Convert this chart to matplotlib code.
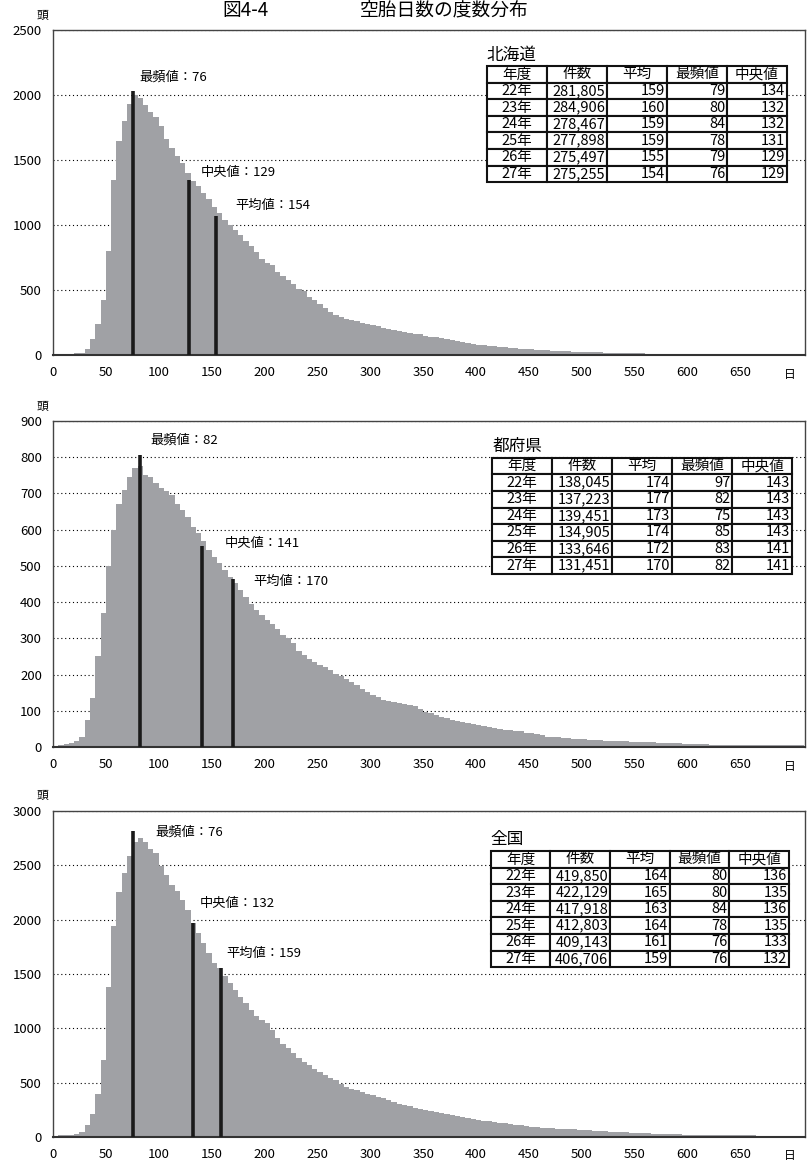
import numpy as np
import matplotlib
matplotlib.use("Agg")
import matplotlib.pyplot as plt

plt.rcParams["font.family"] = ["Noto Sans CJK JP", "DejaVu Sans"]

# ======================
# Data (5-day bins, left edge in days)
# ======================
days = np.arange(0, 710, 5)

hokkaido = [
    3, 5, 8, 10, 15, 18, 50, 120, 240, 420,
    800, 1350, 1650, 1800, 1930, 2000, 1980, 1920, 1870, 1830,
    1760, 1660, 1590, 1530, 1480, 1400, 1340, 1300, 1250, 1200,
    1140, 1090, 1040, 1000, 960, 920, 880, 840, 790, 740,
    710, 690, 640, 610, 580, 550, 510, 490, 450, 420,
    390, 360, 330, 310, 295, 280, 270, 260, 250, 240,
    230, 220, 210, 200, 195, 185, 178, 172, 165, 158,
    150, 142, 135, 128, 120, 113, 105, 98, 90, 82,
    77, 74, 71, 68, 65, 62, 57, 52, 48, 45,
    43, 40, 37, 35, 33, 32, 30, 28, 27, 26,
    25, 23, 21, 20, 18, 17, 16, 15, 14, 13,
    13, 12, 11, 10, 10, 9, 9, 8, 8, 7,
    7, 7, 6, 6, 6, 5, 5, 5, 5, 4,
    4, 4, 4, 3, 3, 3, 3, 3, 2, 2,
    2, 2,
]

tofuken = [
    3, 5, 8, 10, 18, 28, 75, 135, 250, 370,
    500, 600, 670, 710, 745, 770, 775, 750, 745, 728,
    714, 708, 695, 672, 654, 635, 608, 590, 570, 545,
    525, 507, 488, 470, 452, 433, 415, 396, 378, 364,
    350, 340, 327, 310, 300, 288, 265, 253, 244, 235,
    226, 220, 212, 203, 197, 189, 180, 170, 161, 152,
    143, 138, 130, 126, 123, 121, 120, 116, 112, 104,
    98, 93, 89, 84, 79, 75, 72, 69, 66, 63,
    61, 58, 56, 53, 50, 47, 46, 44, 43, 40,
    38, 35, 32, 29, 28, 27, 25, 24, 23, 22,
    21, 20, 20, 19, 18, 18, 17, 16, 16, 15,
    15, 14, 13, 13, 12, 12, 11, 10, 10, 9,
    9, 8, 8, 8, 7, 7, 7, 7, 6, 6,
    6, 6, 6, 6, 6, 6, 5, 5, 5, 5,
    5, 5,
]

zenkoku = [
    12, 15, 18, 22, 30, 46, 110, 215, 400, 710,
    1380, 1940, 2250, 2430, 2585, 2710, 2750, 2710, 2650, 2610,
    2490, 2415, 2320, 2260, 2185, 2090, 1970, 1880, 1785, 1690,
    1600, 1555, 1480, 1415, 1355, 1290, 1230, 1170, 1110, 1080,
    1045, 985, 910, 860, 815, 770, 725, 690, 660, 630,
    600, 570, 540, 520, 490, 460, 445, 430, 415, 400,
    385, 370, 355, 338, 323, 308, 294, 283, 270, 258,
    248, 238, 229, 220, 211, 202, 193, 184, 174, 165,
    156, 150, 144, 138, 132, 126, 120, 114, 107, 101,
    95, 91, 87, 83, 80, 77, 74, 72, 69, 66,
    64, 61, 58, 55, 52, 49, 47, 44, 42, 39,
    37, 35, 33, 31, 29, 28, 26, 25, 23, 22,
    21, 20, 20, 19, 18, 18, 17, 17, 16, 16,
    15, 14, 14, 13, 13, 12, 12, 12, 12, 12,
    12, 12,
]

# mode / median / mean (day, height of marker line)
hk_marks = [(76, 2030), (129, 1350), (154, 1070)]
tf_marks = [(82, 805), (141, 555), (170, 465)]
zk_marks = [(76, 2815), (132, 1965), (159, 1555)]
mark_names = ["最頻値", "中央値", "平均値"]

# yearly summary tables
years = ["22年", "23年", "24年", "25年", "26年", "27年"]
col_labels = ["年度", "件数", "平均", "最頻値", "中央値"]

hk_count = [281805, 284906, 278467, 277898, 275497, 275255]
hk_mean = [159, 160, 159, 159, 155, 154]
hk_mode = [79, 80, 84, 78, 79, 76]
hk_median = [134, 132, 132, 131, 129, 129]

tf_count = [138045, 137223, 139451, 134905, 133646, 131451]
tf_mean = [174, 177, 173, 174, 172, 170]
tf_mode = [97, 82, 75, 85, 83, 82]
tf_median = [143, 143, 143, 143, 141, 141]

zk_count = [419850, 422129, 417918, 412803, 409143, 406706]
zk_mean = [164, 165, 163, 164, 161, 159]
zk_mode = [80, 80, 84, 78, 76, 76]
zk_median = [136, 135, 136, 135, 133, 132]

BAR_COLOR = "#a0a1a5"


def draw_table(ax, name, count, mean, mode, median, bbox):
    cells = [
        [y, f"{c:,}", str(a), str(m), str(md)]
        for y, c, a, m, md in zip(years, count, mean, mode, median)
    ]
    tb = ax.table(cellText=cells, colLabels=col_labels, cellLoc="right",
                  bbox=bbox, zorder=5)
    tb.auto_set_font_size(False)
    tb.set_fontsize(10.5)
    for (r, c), cell in tb.get_celld().items():
        cell.set_linewidth(1.5)
        cell.set_edgecolor("#111111")
        cell.PAD = 0.03
        if r == 0 or c == 0:
            cell._loc = "center"
            cell.get_text().set_horizontalalignment("center")
    ax.annotate(name, xy=(bbox[0], bbox[1] + bbox[3]), xycoords="axes fraction",
                xytext=(0, 2), textcoords="offset points",
                ha="left", va="bottom", fontsize=12)


def draw_panel(ax, values, ymax, ystep, marks, label_pos, table_args):
    ax.bar(days, values, width=5, align="edge", color=BAR_COLOR,
           edgecolor="none", zorder=2)
    for (x, h) in marks:
        ax.vlines(x, 0, h, color="#1a1a1a", lw=2.6, zorder=3)
    for name, (x, _), (tx, ty) in zip(mark_names, marks, label_pos):
        ax.text(tx, ty, f"{name}：{x}", fontsize=9.5, ha="left", va="center",
                zorder=4)

    ax.set_xlim(0, 711)
    ax.set_ylim(0, ymax)
    ax.set_xticks(np.arange(0, 651, 50))
    ax.set_yticks(np.arange(0, ymax + 1, ystep))
    ax.tick_params(length=0, labelsize=9.5)
    ax.tick_params(axis="y", pad=8)
    ax.tick_params(axis="x", pad=8)
    ax.yaxis.grid(True, linestyle=(0, (1, 2.5)), color="black", lw=0.8)
    ax.set_axisbelow(True)
    for s in ax.spines.values():
        s.set_color("#444444")
        s.set_linewidth(1.0)
    ax.spines["bottom"].set_linewidth(1.5)
    ax.spines["bottom"].set_color("#333333")

    ax.annotate("頭", xy=(0, 1), xycoords="axes fraction", xytext=(-11, 15),
                textcoords="offset pixels", ha="center", va="center", fontsize=8.5)
    ax.annotate("日", xy=(1, 0), xycoords="axes fraction", xytext=(-15, -19),
                textcoords="offset pixels", ha="center", va="center", fontsize=8.5)

    draw_table(ax, *table_args)


fig = plt.figure(figsize=(8.07, 11.64), dpi=100)

ax1 = fig.add_axes([0.0657, 0.695, 0.9318, 0.2792])
ax2 = fig.add_axes([0.0657, 0.3582, 0.9318, 0.2801])
ax3 = fig.add_axes([0.0657, 0.0232, 0.9318, 0.2801])

draw_panel(ax1, hokkaido, 2500, 500, hk_marks,
           [(82, 2140), (140, 1407), (172, 1153)],
           ("北海道", hk_count, hk_mean, hk_mode, hk_median,
            [0.577, 0.532, 0.399, 0.357]))
draw_panel(ax2, tofuken, 900, 100, tf_marks,
           [(92, 847), (162, 563), (189, 458)],
           ("都府県", tf_count, tf_mean, tf_mode, tf_median,
            [0.584, 0.531, 0.399, 0.356]))
draw_panel(ax3, zenkoku, 3000, 500, zk_marks,
           [(97, 2806), (139, 2144), (164, 1693)],
           ("全国", zk_count, zk_mean, zk_mode, zk_median,
            [0.582, 0.521, 0.397, 0.356]))

# title at the top edge
fig.text(222 / 807, 1.0, "図4-4", fontsize=13.5, ha="left", va="top")
fig.text(360 / 807, 1.0, "空胎日数の度数分布", fontsize=13.5,
         ha="left", va="top")

fig.savefig("out.png", dpi=100)
